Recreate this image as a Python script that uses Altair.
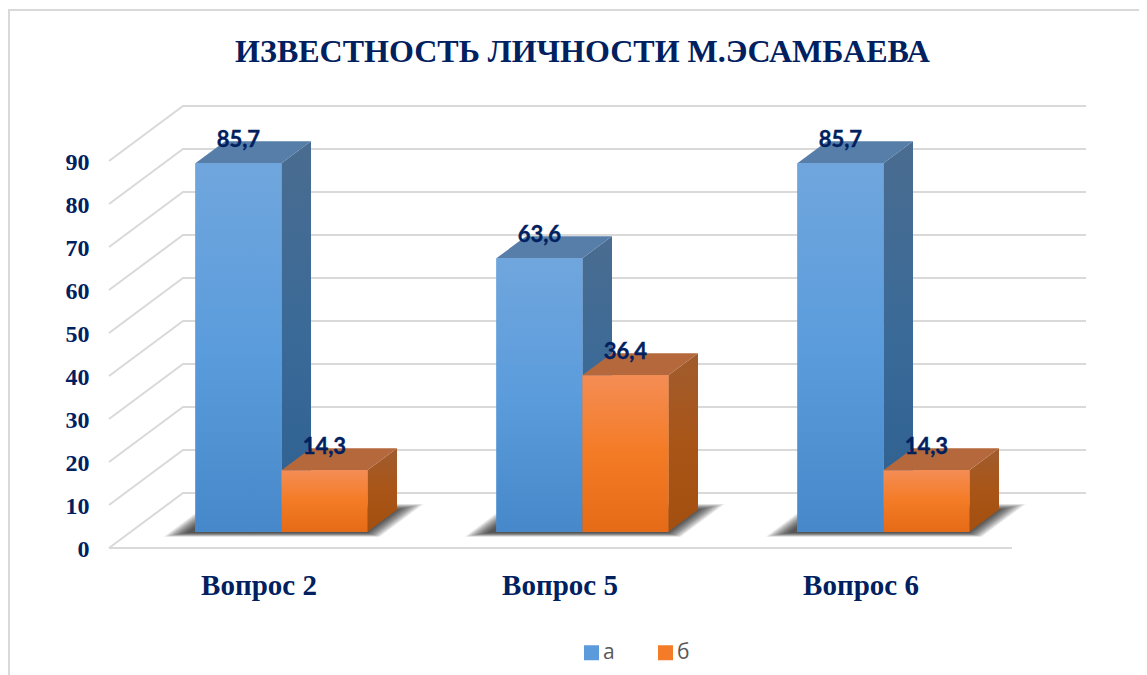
import altair as alt
import pandas as pd

categories = ["Вопрос 2", "Вопрос 5", "Вопрос 6"]
series_names = ["а", "б"]
series_a = [85.7, 63.6, 85.7]
series_b = [14.3, 36.4, 14.3]
y_ticks = [0, 10, 20, 30, 40, 50, 60, 70, 80, 90]
labels_a = ["85,7", "63,6", "85,7"]
labels_b = ["14,3", "36,4", "14,3"]
title_text = "ИЗВЕСТНОСТЬ ЛИЧНОСТИ М.ЭСАМБАЕВА"

# Oblique projection: depth 0 is the front edge of the floor, depth 1 the back wall
PX = 301.0           # pixels per category slot
PY = 4.3             # pixels per value unit
DX = 74 / PX         # x shift at full depth, in slots
DY = 55 / PY         # y shift at full depth, in value units
D1, D2 = 0.296, 0.696   # depth of the bars' front and back faces
BW = 86 / PX         # bar width, in slots
NAVY = "#002060"
GRID = "#d9d9d9"


def grad(*stops):
    n = len(stops) - 1
    return alt.LinearGradient(
        gradient="linear", x1=0, x2=0, y1=0, y2=1,
        stops=[alt.GradientStop(offset=i / n, color=c) for i, c in enumerate(stops)],
    )


STYLE = {
    "а": dict(front=grad("#70a6dd", "#5b9cdc", "#4688c9"),
              side=grad("#4a6c90", "#3a6a98", "#2c5f90"), top="#567ea9"),
    "б": dict(front=grad("#f48d55", "#f47b25", "#e66b17"),
              side=grad("#a05c2e", "#a95517", "#a34f10"), top="#b5683c"),
}

xscale = alt.Scale(domain=[0, 977 / PX], range=[0, 977], nice=False, zero=False)
yscale = alt.Scale(domain=[0, 443 / PY], range=[443, 0], nice=False, zero=False)
cat_expr = "[" + ",".join(f"'{c}'" for c in categories) + "][floor(datum.value)]"
xaxis = alt.Axis(values=[0.5, 1.5, 2.5], labelExpr=cat_expr, title=None, domain=False, ticks=False,
                 grid=False, labelFont="Liberation Serif", labelFontWeight="bold", labelFontSize=29,
                 labelColor=NAVY, labelPadding=23, labelOverlap=False, labelAngle=0, labelOffset=-1)
yaxis = alt.Axis(values=y_ticks, title=None, domain=False, ticks=False, grid=False,
                 labelFont="Liberation Serif", labelFontWeight="bold", labelFontSize=24,
                 labelColor=NAVY, labelPadding=20, labelOverlap=False, labelOffset=1)


def X(f="x"):
    return alt.X(f"{f}:Q", scale=xscale, axis=xaxis)


def Y(f="y"):
    return alt.Y(f"{f}:Q", scale=yscale, axis=yaxis)


X2 = alt.X2("x2:Q")
Y2 = alt.Y2("y2:Q")

# ---- wall and floor grid
grid_rows = []
for t in y_ticks:
    grid_rows.append(dict(line=f"w{t}", o=0, x=0, y=t))
    grid_rows.append(dict(line=f"w{t}", o=1, x=DX, y=t + DY))
    grid_rows.append(dict(line=f"w{t}", o=2, x=3 + DX, y=t + DY))
grid_rows.append(dict(line="floor", o=0, x=0, y=0))
grid_rows.append(dict(line="floor", o=1, x=3, y=0))
grid = alt.Chart(pd.DataFrame(grid_rows)).mark_line(color=GRID, strokeWidth=2, clip=False).encode(
    x=X(), y=Y(), detail="line:N", order="o:Q")

# ---- faces
bars = []
for i, c in enumerate(categories):
    mid = i + 0.5 + D1 * DX
    bars.append(dict(s="а", x0=mid - BW, x1=mid, v=series_a[i], t=labels_a[i], id=f"a{i}"))
    bars.append(dict(s="б", x0=mid, x1=mid + BW, v=series_b[i], t=labels_b[i], id=f"b{i}"))


def y_at(v, d):
    return v + d * DY


def faces(s):
    sel = [b for b in bars if b["s"] == s]
    front = pd.DataFrame([dict(x=b["x0"], x2=b["x1"], y=y_at(b["v"], D1), y2=y_at(0, D1), s=s) for b in sel])
    side, top = [], []
    shift = (D2 - D1) * DX
    for b in sel:
        side.append(dict(id=b["id"], x=b["x1"], y=y_at(b["v"], D1), y2=y_at(0, D1)))
        side.append(dict(id=b["id"], x=b["x1"] + shift, y=y_at(b["v"], D2), y2=y_at(0, D2)))
        top.append(dict(id=b["id"], y=y_at(b["v"], D1), x=b["x0"], x2=b["x1"]))
        top.append(dict(id=b["id"], y=y_at(b["v"], D2), x=b["x0"] + shift, x2=b["x1"] + shift))
    st = STYLE[s]
    return [
        alt.Chart(pd.DataFrame(side)).mark_area(color=st["side"]).encode(x=X(), y=Y(), y2=Y2, detail="id:N"),
        alt.Chart(pd.DataFrame(top)).mark_area(color=st["top"], orient="horizontal").encode(
            x=X(), x2=X2, y=Y(), detail="id:N"),
        alt.Chart(front).mark_rect(color=st["front"]).encode(x=X(), x2=X2, y=Y(), y2=Y2),
    ]


# ---- soft floor shadow: stacked translucent parallelograms, widest and palest first
shadow_rows = []
N_SH = 14
for i in range(3):
    left = i + 0.5 + D1 * DX - BW
    right = left + 2 * BW
    for k in range(N_SH):
        f = k / (N_SH - 1)              # 0 = outer blur edge, 1 = inner core
        ex_l = (25 - 18 * f) / PX
        ex_r = (19 - 18 * f) / PX
        d_lo = 0.205 + 0.07 * f
        d_hi = 0.80 - 0.10 * f
        for d in (d_lo, d_hi):
            off = (d - D1) * DX
            shadow_rows.append(dict(id=f"{i}-{k}", y=y_at(0, d), x=left + off - ex_l, x2=right + off + ex_r))
shadow = alt.Chart(pd.DataFrame(shadow_rows)).mark_area(
    color="#000000", opacity=0.07, orient="horizontal", interpolate="linear"
).encode(x=X(), x2=X2, y=Y(), detail="id:N")

# ---- legend layer (sits under the gradient fronts)
front_all = pd.DataFrame([dict(x=b["x0"], x2=b["x1"], y=y_at(b["v"], D1), y2=y_at(0, D1), s=b["s"]) for b in bars])
legend_layer = alt.Chart(front_all).mark_rect().encode(
    x=X(), x2=X2, y=Y(), y2=Y2,
    color=alt.Color("s:N", scale=alt.Scale(domain=series_names, range=["#5b9bdb", "#f47b28"]),
                    legend=alt.Legend(orient="none", legendX=472, legendY=537, direction="horizontal",
                                      title=None, symbolType="square", symbolSize=225, symbolStrokeWidth=0,
                                      labelFont="Open Sans", labelFontSize=21, labelColor="#595959",
                                      labelOffset=1, columnPadding=40, padding=0)),
)

# ---- data labels
label_df = pd.DataFrame([dict(x=(b["x0"] + b["x1"]) / 2, y=y_at(b["v"], D1), t=b["t"]) for b in bars])
labels = alt.Chart(label_df).mark_text(
    font="Lato", fontWeight="bold", fontSize=22, color=NAVY, stroke=NAVY, strokeWidth=0.4,
    dy=-16.5, baseline="alphabetic", align="center"
).encode(x=X(), y=Y(), text="t:N")

# ---- chart frame
frame_top = alt.Chart(pd.DataFrame({"a": [0]})).mark_rule(color=GRID, strokeWidth=2, clip=False).encode(
    x=alt.value(-101), x2=alt.value(1040), y=alt.value(-95))
frame_left = alt.Chart(pd.DataFrame({"a": [0]})).mark_rule(color=GRID, strokeWidth=2, clip=False).encode(
    x=alt.value(-100), y=alt.value(-95), y2=alt.value(570))

chart = alt.layer(
    frame_top, frame_left, grid, shadow, legend_layer, *faces("а"), *faces("б"), labels
).properties(
    width=977, height=443,
    padding={"left": 101, "top": 97, "right": 53, "bottom": 127},
    autosize=alt.AutoSizeParams(type="none"),
    title=alt.TitleParams(title_text, font="Liberation Serif", fontWeight="bold", fontSize=32, color=NAVY,
                          anchor="middle", dx=-15, offset=0, dy=85, baseline="alphabetic"),
).configure_view(stroke=None)

chart.save("out.html", embed_options={"renderer": "svg", "actions": False})
